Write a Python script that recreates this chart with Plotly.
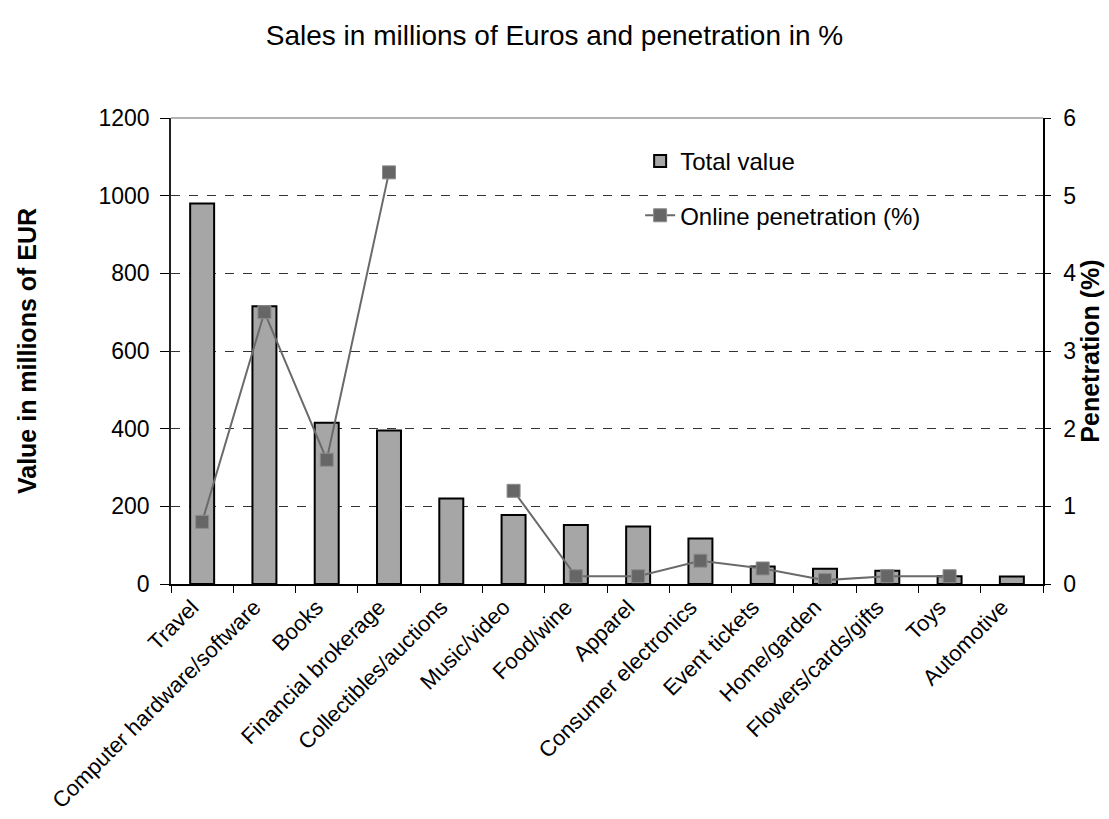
import plotly.graph_objects as go

categories = ["Travel", "Computer hardware/software", "Books", "Financial brokerage",
              "Collectibles/auctions", "Music/video", "Food/wine", "Apparel",
              "Consumer electronics", "Event tickets", "Home/garden",
              "Flowers/cards/gifts", "Toys", "Automotive"]
total_value = [980, 715, 415, 395, 220, 178, 152, 148, 117, 45, 39, 34, 20, 19]
penetration = [0.8, 3.5, 1.6, 5.3, None, 1.2, 0.1, 0.1, 0.3, 0.2, 0.05, 0.1, 0.1, None]
left_ticks = [0, 200, 400, 600, 800, 1000, 1200]
right_ticks = [0, 1, 2, 3, 4, 5, 6]

FONT = "Liberation Sans, Arial, sans-serif"

fig = go.Figure()
fig.add_trace(go.Bar(
    x=categories, y=total_value, name="Total value",
    marker=dict(color="#A6A6A6", line=dict(color="#000000", width=2)),
    legendgroup="a",
))
fig.add_trace(go.Scatter(
    x=categories, y=penetration, name="Online penetration (%)", yaxis="y2",
    mode="lines+markers", connectgaps=False,
    line=dict(color="#6A6A6A", width=2),
    marker=dict(symbol="square", size=13, color="#666666",
                line=dict(color="#8C8C8C", width=1)),
    legendgroup="b",
))

fig.update_layout(
    width=1109, height=819,
    paper_bgcolor="white", plot_bgcolor="white",
    font=dict(family=FONT, size=23, color="#000000"),
    title=dict(text="Sales in millions of Euros and penetration in %",
               x=0.5, xanchor="center", y=0.957, yanchor="middle",
               font=dict(size=28, family=FONT, color="#000000")),
    margin=dict(l=171, r=66, t=118, b=235, autoexpand=False),
    bargap=0.615,
    showlegend=True,
    legend=dict(x=0.538, y=0.955, xanchor="left", yanchor="top",
                bgcolor="rgba(0,0,0,0)", borderwidth=0,
                font=dict(size=24, family=FONT),
                tracegroupgap=20, traceorder="grouped"),
    xaxis=dict(
        range=[-0.5, len(categories) - 0.5],
        tickangle=-45, tickson="boundaries", ticks="outside", ticklen=7,
        tickcolor="#000000", showline=True, linecolor="#000000", linewidth=1.5,
        showgrid=False, tickfont=dict(size=22, family=FONT),
        ticklabelshift=-10,
    ),
    yaxis=dict(
        range=[0, 1200], tickvals=left_ticks, ticks="outside", ticklen=9,
        tickcolor="#000000", showline=True, linecolor="#222222", linewidth=1.5,
        showgrid=True, gridcolor="#333333", griddash="dash", gridwidth=1,
        zeroline=False, ticklabelstandoff=6,
        title=dict(text="<b>Value in millions of EUR</b>", font=dict(size=25, family=FONT),
                   standoff=55),
        tickfont=dict(size=23, family=FONT),
    ),
    yaxis2=dict(
        range=[0, 6], tickvals=right_ticks, overlaying="y", side="right",
        ticks="outside", ticklen=6, tickcolor="#000000", showline=True,
        linecolor="#000000", linewidth=1.5, showgrid=False, zeroline=False,
        ticklabelstandoff=8,
        title=dict(text="<b>Penetration (%)</b>", font=dict(size=25, family=FONT),
                   standoff=6),
        tickfont=dict(size=23, family=FONT),
    ),
    shapes=[
        # white legend backdrop hiding gridline
        dict(type="rect", xref="paper", yref="paper", x0=0.432, x1=0.934,
             y0=0.72, y1=0.975, fillcolor="white", line=dict(width=0), layer="between"),
        # top border of plot area
        dict(type="line", xref="paper", yref="paper", x0=0, x1=1, y0=1, y1=1,
             line=dict(color="#9A9A9A", width=1.5), layer="above"),
    ],
)

fig.write_html("out.html")
